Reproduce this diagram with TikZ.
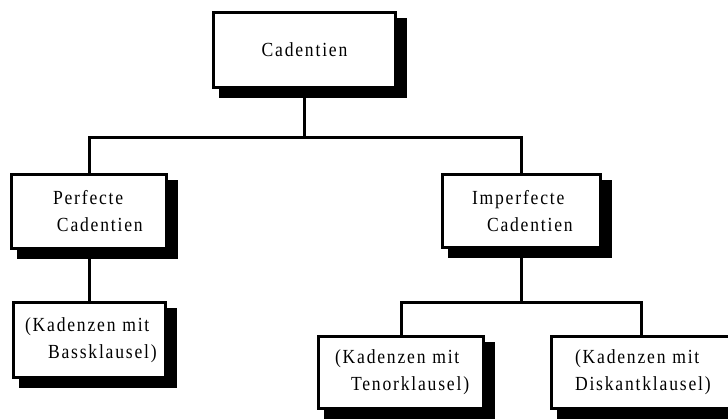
\documentclass[tikz,border=0pt]{standalone}
\usepackage{fontspec}
\setmainfont{Liberation Serif}
\newfontfamily\boxfont{Liberation Serif}[LetterSpace=9, FakeStretch=0.88]
\usetikzlibrary{backgrounds}

\begin{document}
\begin{tikzpicture}[x=1pt,y=-1pt,
  box/.style={draw, line width=3pt, fill=white, inner sep=0pt,
    font=\boxfont\fontsize{20}{27}\selectfont, align=left},
  conn/.style={line width=3pt, line join=miter},
  shadowfill/.style={fill=black}]
\useasboundingbox (0,0) rectangle (728,419);
\clip (0,0) rectangle (728,419);

% boxes
\node[box, align=center, minimum width=182pt, minimum height=75pt] (top) at (304.5,50) {Cadentien};
\node[box, text width=155pt, minimum height=74pt] (perf) at (89,211.5)
  {\hspace*{41.5pt}Perfecte\\\hspace*{45.5pt}Cadentien};
\node[box, text width=158pt, minimum height=73pt] (imperf) at (521.5,211)
  {\hspace*{29.5pt}Imperfecte\\\hspace*{44.5pt}Cadentien};
\node[box, text width=152pt, minimum height=75pt] (bass) at (89.5,340)
  {\hspace*{11.5pt}(Kadenzen mit\\\hspace*{34.5pt}Bassklausel)};
\node[box, text width=165pt, minimum height=72pt] (tenor) at (401,372.5)
  {\hspace*{16.5pt}(Kadenzen mit\\\hspace*{32.5pt}Tenorklausel)};
\node[box, text width=179pt, minimum height=72pt] (disk) at (641,372.5)
  {\hspace*{23.5pt}(Kadenzen mit\\\hspace*{23.5pt}Diskantklausel)};

% levels of the horizontal bars
\coordinate (bar1) at (0,138);
\coordinate (bar2) at (0,303);

\begin{scope}[on background layer]
  % drop shadows
  \foreach \n in {top,perf,imperf,bass,tenor,disk}
    \fill[shadowfill] ([shift={(7,7)}]\n.north west) rectangle ([shift={(10,9)}]\n.south east);
  % connectors
  \draw[conn] (top.south) -- (top.south |- bar1);
  \draw[conn] (perf.north) -- (perf.north |- bar1) -- (imperf.north |- bar1) -- (imperf.north);
  \draw[conn] (perf.south) -- (perf.south |- bass.north);
  \draw[conn] (imperf.south) -- (imperf.south |- bar2);
  \draw[conn] (tenor.north) -- (tenor.north |- bar2) -- (disk.north |- bar2) -- (disk.north);
\end{scope}
\end{tikzpicture}
\end{document}
